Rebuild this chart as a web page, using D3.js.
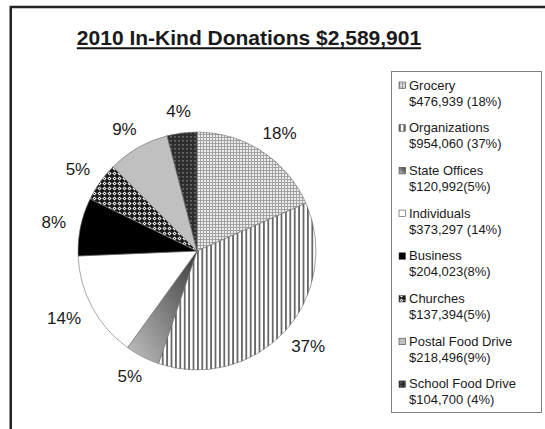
<!DOCTYPE html>
<html><head><meta charset="utf-8">
<script src="https://cdn.jsdelivr.net/npm/d3@7"></script>
<style>body{margin:0;background:#fff} svg{display:block;font-family:"Liberation Sans",Arial,sans-serif}</style>
</head><body><svg id="c" width="545" height="429"></svg>
<script>
const categories = ["Grocery","Organizations","State Offices","Individuals","Business","Churches","Postal Food Drive","School Food Drive"];
const values = [476939,954060,120992,373297,204023,137394,218496,104700];
const legendAmounts = ["$476,939 (18%)","$954,060 (37%)","$120,992(5%)","$373,297 (14%)","$204,023(8%)","$137,394(5%)","$218,496(9%)","$104,700 (4%)"];
const pctLabels = ["18%","37%","5%","14%","8%","5%","9%","4%"];
const title = "2010 In-Kind Donations $2,589,901";
const fills = ["url(#pGro)","url(#pOrg)","url(#gState)","#ffffff","#000000","url(#pChu)","#c0c0c0","url(#pSch)"];

const svg = d3.select("#c");
const defs = svg.append("defs");
// Grocery: fine dot grid
let p = defs.append("pattern").attr("id","pGro").attr("patternUnits","userSpaceOnUse").attr("width",3).attr("height",3);
p.append("rect").attr("width",3).attr("height",3).attr("fill","#a2a2a2");
p.append("rect").attr("x",1).attr("y",1).attr("width",2).attr("height",2).attr("fill","#ededed");
// Organizations: vertical stripes
p = defs.append("pattern").attr("id","pOrg").attr("patternUnits","userSpaceOnUse").attr("width",4.4).attr("height",10);
p.append("rect").attr("width",4.4).attr("height",10).attr("fill","#fff");
p.append("rect").attr("width",1.8).attr("height",10).attr("fill","#666");
// State offices gradient
const g = defs.append("linearGradient").attr("id","gState").attr("x1",1).attr("y1",0).attr("x2",0).attr("y2",1);
g.append("stop").attr("offset","0%").attr("stop-color","#3c3c3c");
g.append("stop").attr("offset","100%").attr("stop-color","#c2c2c2");
// Churches: diamond lattice
p = defs.append("pattern").attr("id","pChu").attr("patternUnits","userSpaceOnUse").attr("width",5).attr("height",5);
p.append("rect").attr("width",5).attr("height",5).attr("fill","#1c1c1c");
p.append("path").attr("d","M2.5,0.4L4.6,2.5L2.5,4.6L0.4,2.5Z").attr("fill","#f2f2f2");
p.append("rect").attr("x",2).attr("y",2).attr("width",1).attr("height",1).attr("fill","#1c1c1c");
// School: dark with dashes
p = defs.append("pattern").attr("id","pSch").attr("patternUnits","userSpaceOnUse").attr("width",4).attr("height",4);
p.append("rect").attr("width",4).attr("height",4).attr("fill","#2e2e2e");
p.append("rect").attr("x",1.5).attr("y",1).attr("width",1).attr("height",1.6).attr("fill","#9a9a9a");

// frame
svg.append("path").attr("d","M10.75,440V6.9H560").attr("fill","none").attr("stroke","#222").attr("stroke-width",2.5);

// title
const t = svg.append("text").attr("x",249).attr("y",45).attr("text-anchor","middle")
  .attr("font-size",21).attr("font-weight","bold").attr("fill","#1a1a1a").text(title);
const tw = t.node().getComputedTextLength();
svg.append("line").attr("x1",249-tw/2).attr("x2",249+tw/2).attr("y1",48.3).attr("y2",48.3).attr("stroke","#111").attr("stroke-width",2);

// pie
const cx = 197, cy = 251, r = 119;
const pie = d3.pie().sort(null).value(d=>d);
const arcs = pie(values);
const arc = d3.arc().innerRadius(0).outerRadius(r);
const gp = svg.append("g").attr("transform",`translate(${cx},${cy})`);
gp.selectAll("path.s").data(arcs).join("path").attr("class","s").attr("d",arc)
  .attr("fill",(d,i)=>fills[i]).attr("stroke","#6e6e6e").attr("stroke-width",0.6);

// percentage labels
const lab = gp.selectAll("text.l").data(arcs).join("text").attr("class","l")
  .attr("font-size",17).attr("fill","#1a1a1a").attr("text-anchor","middle").attr("dy","0.35em")
  .text((d,i)=>pctLabels[i]);
lab.each(function(d){
  const a = (d.startAngle+d.endAngle)/2;
  const ux = Math.sin(a), uy = -Math.cos(a);
  const w = this.getComputedTextLength(), h = 14, gap = 15;
  const x = (r+gap)*ux + w/2*ux, y = (r+gap)*uy + h/2*uy;
  d3.select(this).attr("x",x).attr("y",y);
});

// legend
const lx = 391, ly = 71, lw = 150, lh = 341;
svg.append("rect").attr("x",lx+0.5).attr("y",ly+0.5).attr("width",lw).attr("height",lh)
  .attr("fill","#fff").attr("stroke","#808080").attr("stroke-width",1);
const li = svg.append("g").selectAll("g").data(categories).join("g")
  .attr("transform",(d,i)=>`translate(${lx+8},${ly+18.5+i*42.7})`);
li.append("rect").attr("x",0).attr("y",-7.5).attr("width",6.5).attr("height",6.5)
  .attr("fill",(d,i)=>fills[i]).attr("stroke","#444").attr("stroke-width",0.6);
li.append("text").attr("x",10).attr("y",0).attr("font-size",13).attr("fill","#1a1a1a").text(d=>d);
li.append("text").attr("x",10).attr("y",16).attr("font-size",13).attr("fill","#1a1a1a").text((d,i)=>legendAmounts[i]);
</script></body></html>
